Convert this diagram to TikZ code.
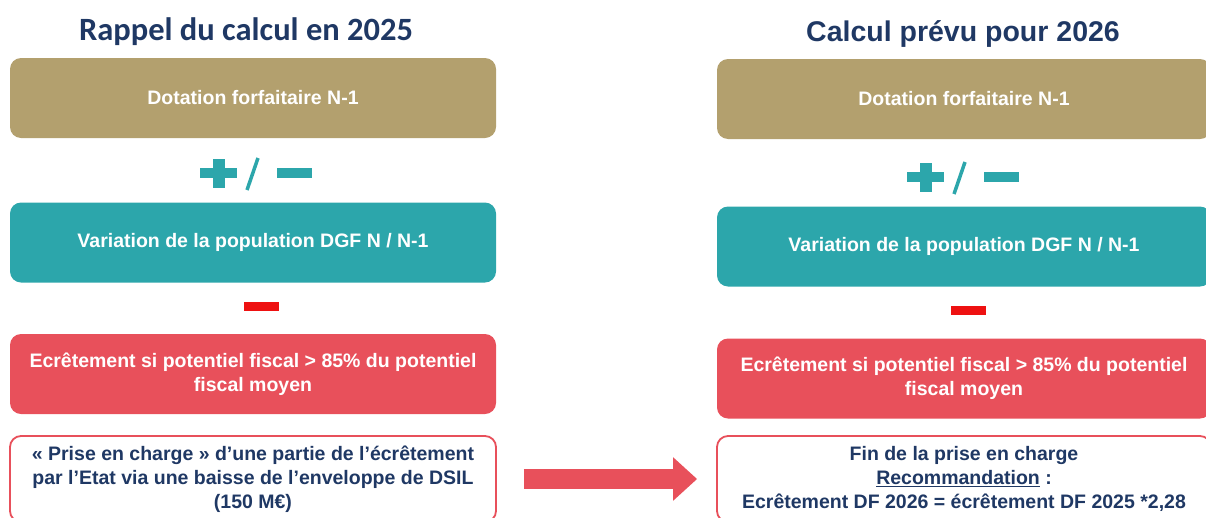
\documentclass[tikz,border=0pt]{standalone}
\usepackage{fontspec}
\setmainfont{Liberation Sans}
\newfontfamily\titlefont{Carlito}
\usetikzlibrary{arrows.meta}
\definecolor{dfnavy}{HTML}{1F3864}
\definecolor{dfgold}{HTML}{B3A06E}
\definecolor{dfteal}{HTML}{2CA6AB}
\definecolor{dfred}{HTML}{E8505B}
\definecolor{signred}{HTML}{EE1111}
\begin{document}
\begin{tikzpicture}[%
	x=1pt, y=-1pt,
	every node/.style = {align=center, inner sep=0pt, font=\bfseries\fontsize{19.5}{24}\selectfont},
	box/.style = {shape=rectangle, rounded corners=11pt, minimum height=80pt, text=white},
	goldbox/.style = {box, fill=dfgold},
	tealbox/.style = {box, fill=dfteal},
	redbox/.style = {box, fill=dfred},
	outlinebox/.style = {box, minimum height=86pt, fill=white, draw=dfred, line width=1.8pt, text=dfnavy},
	heading/.style = {anchor=base, text=dfnavy},
	plusminus/.pic = {
		\fill[dfteal] (-56,-5) rectangle (-19,5);
		\fill[dfteal] (-43,-14.5) rectangle (-31,14.5);
		\draw[dfteal, line width=3.5pt] (2,-15) -- (-9,17);
		\fill[dfteal] (21,-5) rectangle (56,5);},
	minussign/.pic = {\fill[signred] (-17.5,-4.5) rectangle (17.5,4.5);}
	]
	\useasboundingbox (0,0) rectangle (1206,517);
	\clip (0,0) rectangle (1206,517);
	\node [heading, font=\titlefont\bfseries\fontsize{32.5}{38}\selectfont] (t1) at (246,40) {Rappel du calcul en 2025};
	\node [heading, font=\bfseries\fontsize{28.5}{34}\selectfont] (t2) at (963,41) {Calcul prévu pour 2026};
	\node [goldbox, minimum width=486pt] (l1) at (253,98) {Dotation forfaitaire N-1};
	\node [tealbox, minimum width=486pt] (l2) at (253,242.5) {Variation de la population DGF N / N-1};
	\node [redbox, minimum width=486pt] (l3) at (253,374) {Ecrêtement si potentiel fiscal > 85\% du potentiel\\fiscal moyen};
	\node [outlinebox, minimum width=486pt] (l4) at (253,479) {« Prise en charge » d’une partie de l’écrêtement\\par l’Etat via une baisse de l’enveloppe de DSIL\\(150 M€)};
	\node [goldbox, minimum width=494pt] (r1) at (964,99) {Dotation forfaitaire N-1};
	\node [tealbox, minimum width=494pt] (r2) at (964,246.5) {Variation de la population DGF N / N-1};
	\node [redbox, minimum width=494pt] (r3) at (964,378.5) {Ecrêtement si potentiel fiscal > 85\% du potentiel\\fiscal moyen};
	\node [outlinebox, minimum width=494pt] (r4) at (964,479) {Fin de la prise en charge\\\underline{Recommandation} :\\Ecrêtement DF 2026 = écrêtement DF 2025 *2,28};
	\pic at (256,173) {plusminus};
	\pic at (963,177) {plusminus};
	\pic at (261,306.5) {minussign};
	\pic at (968,310) {minussign};
	\draw [dfred, line width=20pt, -{Triangle[length=24pt, width=42pt]}, shorten <=27pt, shorten >=19pt] (l4) -- (r4);
\end{tikzpicture}
\end{document}
